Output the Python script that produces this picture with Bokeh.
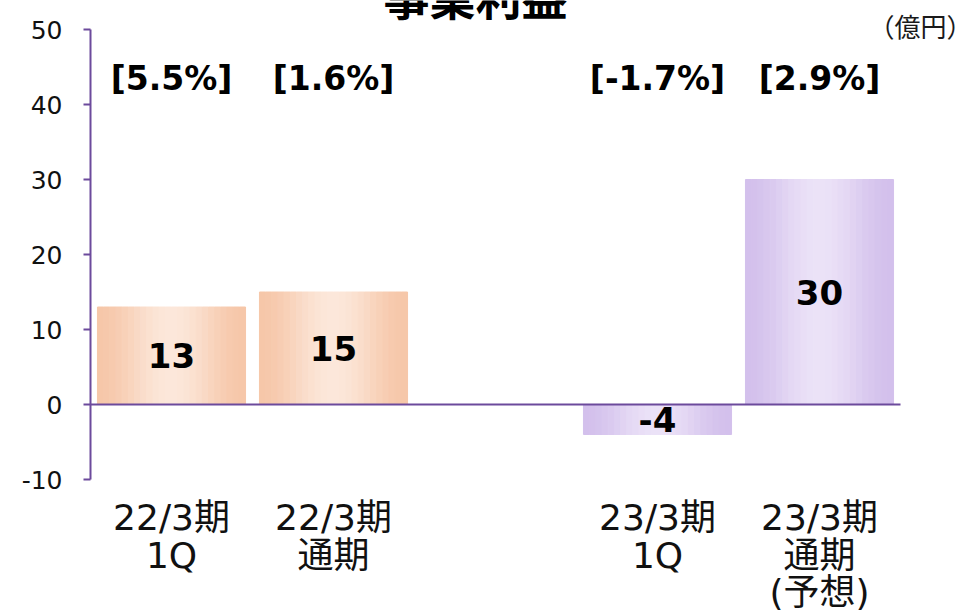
import math
from bokeh.plotting import figure
from bokeh.models import ColumnDataSource, Range1d, FixedTicker, LabelSet, Label, PrintfTickFormatter
from bokeh.transform import dodge
from bokeh.core.properties import value
from bokeh.embed import file_html
from bokeh.resources import INLINE

# ---------------- data ----------------
categories = ["22/3期\n1Q", "22/3期\n通期", "", "23/3期\n1Q", "23/3期\n通期\n(予想)"]
bar_categories = ["22/3期\n1Q", "22/3期\n通期", "23/3期\n1Q", "23/3期\n通期\n(予想)"]
profit = [13, 15, -4, 30]
margin_labels = ["[5.5%]", "[1.6%]", "[-1.7%]", "[2.9%]"]
y_ticks = [-10, 0, 10, 20, 30, 40, 50]
y_min, y_max = -10, 50
title_text = "事業利益"
unit_text = "（億円）"

# ---------------- styles / layout ----------------
W, H = 972, 614
LEFT, TOP_PAD, BOTTOM_PAD, RIGHT_PAD = 90, 29, 135, 72   # px around the value area
PLOT_H = 450                                              # px for y_min..y_max
edge_colors = [(246, 199, 169), (246, 199, 169), (211, 192, 236), (211, 192, 236)]
mid_colors = [(252, 231, 218), (252, 231, 218), (235, 226, 247), (235, 226, 247)]
axis_color = "#6c4a9c"
LATIN = "DejaVu Sans"
MIXED = "DejaVu Sans, Noto Sans CJK JP"

slot_px = (W - LEFT - RIGHT_PAD) / len(categories)
upx = PLOT_H / (y_max - y_min)
x_lo = -0.5
x_hi = len(categories) - 0.5 + RIGHT_PAD / slot_px
y_hi = y_max + TOP_PAD / upx
y_lo = y_min - BOTTOM_PAD / upx

xs = [categories.index(c) for c in bar_categories]
lines = [c.split("\n") for c in bar_categories]
src = ColumnDataSource(dict(
    x=xs,
    value=profit,
    half=[v / 2 for v in profit],
    vlabel=[str(v) for v in profit],
    pct=margin_labels,
    l0=[l[0] if len(l) > 0 else "" for l in lines],
    l1=[l[1] if len(l) > 1 else "" for l in lines],
    l2=[l[2] if len(l) > 2 else "" for l in lines],
))

p = figure(
    x_range=Range1d(x_lo, x_hi),
    y_range=Range1d(y_lo, y_hi),
    frame_width=W - LEFT, frame_height=H,
    min_border_left=LEFT, min_border_right=0, min_border_top=0, min_border_bottom=0,
    output_backend="svg", toolbar_location=None,
)
p.outline_line_color = None
p.grid.visible = False
p.background_fill_color = "white"
p.border_fill_color = "white"

# gradient bars drawn as narrow vertical strips
n = 24
bw = 0.914
for k in range(n):
    t = (k + 0.5) / n
    w = 0.5 * (1 - math.cos(2 * math.pi * t))
    cols = []
    for e, m in zip(edge_colors, mid_colors):
        r, g, b = (round(e[i] + (m[i] - e[i]) * w) for i in range(3))
        cols.append("#%02x%02x%02x" % (r, g, b))
    src.data["c%d" % k] = cols
    off = -bw / 2 + (k + 0.5) * bw / n
    p.vbar(x=dodge("x", off), top="value", width=bw / n,
           fill_color="c%d" % k, line_color="c%d" % k, line_width=1, source=src)

# zero line across the category slots
p.segment(x0=[-0.5], x1=[len(categories) - 0.5], y0=[0], y1=[0],
          line_color=axis_color, line_width=2)

# axes
p.xaxis.visible = False
ya = p.yaxis[0]
ya.ticker = FixedTicker(ticks=y_ticks)
ya.formatter = PrintfTickFormatter(format="%d")
ya.bounds = (y_min, y_max)
ya.axis_line_color = axis_color
ya.axis_line_width = 2
ya.major_tick_line_color = axis_color
ya.major_tick_line_width = 2
ya.major_tick_out = 7
ya.major_tick_in = 0
ya.minor_tick_line_color = None
ya.major_label_text_font = LATIN
ya.major_label_text_font_size = "25px"
ya.major_label_text_color = "#111111"
ya.major_label_standoff = 21

# value labels inside bars
p.add_layout(LabelSet(x="x", y="half", text="vlabel", source=src,
                      text_align="center", text_baseline="middle",
                      text_font=value(LATIN), text_font_style="bold",
                      text_font_size="34px", text_color="black"))

# margin labels
p.add_layout(LabelSet(x="x", y=y_max, y_offset=-49, text="pct", source=src,
                      text_align="center", text_baseline="middle",
                      text_font=value(LATIN), text_font_style="bold",
                      text_font_size="33px", text_color="black"))

# category labels, one line at a time below the value area
for i, col in enumerate(["l0", "l1", "l2"]):
    p.add_layout(LabelSet(x="x", y=y_min, y_offset=-(38 + 37.5 * i), text=col, source=src,
                          text_align="center", text_baseline="middle",
                          text_font=value(MIXED), text_font_size="36px",
                          text_color="#111111"))

# title (cut off at the top, as in the reference)
p.add_layout(Label(x=x_lo + (475 - LEFT) / slot_px, y=y_max, y_offset=35,
                   text=title_text, text_align="center", text_baseline="middle",
                   text_font="Noto Sans CJK JP", text_font_style="bold",
                   text_font_size="46px", text_color="black"))

# unit
p.add_layout(Label(x=x_hi, x_offset=0, y=y_max, y_offset=4, text=unit_text,
                   text_align="right", text_baseline="middle",
                   text_font="Noto Sans CJK JP", text_font_size="26px",
                   text_color="#1a1a1a"))

open("out.html", "w").write(file_html(p, INLINE))
